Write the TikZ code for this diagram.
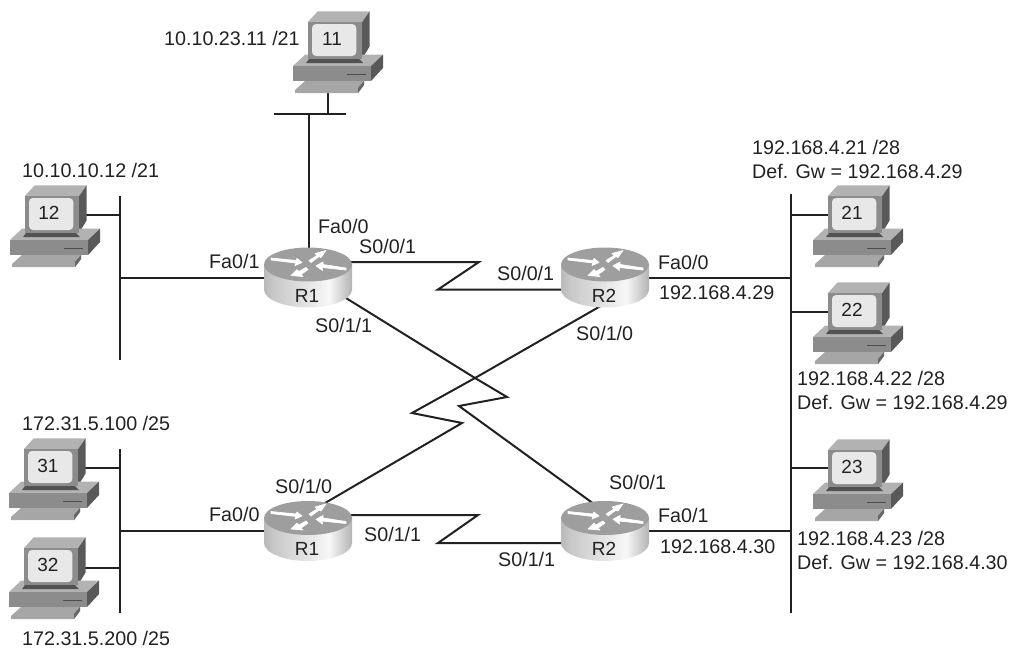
\documentclass[tikz,border=0pt]{standalone}
\usepackage{fontspec}
\setmainfont{Liberation Sans}
\definecolor{ink}{gray}{0.13}
\pgfdeclarehorizontalshading{rtside}{100bp}{
  color(0bp)=(black!55); color(30bp)=(black!22); color(62bp)=(black!3); color(75bp)=(black!30); color(100bp)=(black!78)}
\tikzset{
  x=1pt,y=-1pt,
  wire/.style={draw=ink,line width=2pt,line join=miter,miter limit=10},
  lbl/.style={inner sep=0pt,text=ink,font=\fontsize{19.7}{23}\selectfont,align=left,anchor=west},
  pcbox/.style={inner sep=0pt,minimum width=90pt,minimum height=82pt},
  rtbox/.style={inner sep=0pt,minimum width=88pt,minimum height=60pt},
  rlabel/.style={inner sep=0pt,text=ink,font=\fontsize{19}{22}\selectfont},
  rarrow/.style={fill=white,draw=white,line width=.7pt,line join=round},
}
\newcommand{\pcicon}[3]{%
 \begin{scope}[shift={(#1,#2)}]
  \fill[black!30] (-24.3,-16.7) -- (-14.3,-27.7) -- (37.7,-27.7) -- (30,-16.7) -- cycle;
  \fill[black!65] (30,-16.7) -- (37.7,-27.7) -- (37.7,7.3) -- (30,20) -- cycle;
  \fill[black!30] (-39,27) -- (-27,15.7) -- (51,15.7) -- (39,27) -- cycle;
  \fill[black!45] (-39,27) rectangle (39,42);
  \fill[black!65] (39,27) -- (51,15.7) -- (51,29) -- (39,42) -- cycle;
  \fill[black!35] (-37,51) -- (-27,42) -- (32,42) -- (32,46) -- (26,54) -- (-37,54) -- cycle;
  \fill[black!60] (32,42) -- (32,46) -- (26,54) -- (26,49) -- cycle;
  \fill[black!68] (-23,20) -- (27,20) -- (31,24) -- (-26,24) -- cycle;
  \fill[black!45] (-24.3,-16.7) rectangle (30,20);
  \fill[black!9,rounded corners=4pt] (-20,-15) rectangle (24.3,17);
  \draw[black!70,line width=1pt] (15,35) -- (34,35);
  \node[rlabel] at (0,0) {#3};
 \end{scope}}
\newcommand{\rticon}[3]{%
 \begin{scope}[shift={(#1,#2)}]
  \shade[shading=rtside]
    (-44,-13) -- (-44,12) arc[start angle=180,end angle=360,x radius=44pt,y radius=18pt] -- (44,-13) -- cycle;
  \fill[black!38] (0,-13) ellipse[x radius=44pt,y radius=17pt];
  \fill[rarrow] (-37,-19.5) -- (-12,-17) -- (-11,-19) -- (-6,-15) -- (-13,-12) -- (-12,-14.5) -- (-37,-17.5) -- cycle;
  \fill[rarrow] (38,-7.5) -- (14,-10) -- (14.5,-7) -- (8,-11.7) -- (15,-15.5) -- (15,-13) -- (38,-9.5) -- cycle;
  \fill[rarrow] (1,-17) -- (9,-22) -- (7,-24) -- (18,-27) -- (13,-20) -- (11,-21) -- (3,-15) -- cycle;
  \fill[rarrow] (-2,-10) -- (-9,-6) -- (-11,-8) -- (-17,-2) -- (-5,-1) -- (-7,-3) -- (0,-8) -- cycle;
  \node[rlabel] at (-1,18) {#3};
 \end{scope}}
\begin{document}
\begin{tikzpicture}
\useasboundingbox (0,0) rectangle (1009,648);
% footprints of the devices
\node[pcbox] (pc11) at (332,41) {};
\node[pcbox] (pc12) at (49,215) {};
\node[pcbox] (pc21) at (852,215) {};
\node[pcbox] (pc22) at (852,312) {};
\node[pcbox] (pc23) at (852,468) {};
\node[pcbox] (pc31) at (48,468) {};
\node[pcbox] (pc32) at (48,568) {};
\node[rtbox] (r1a) at (308,277.5) {};
\node[rtbox] (r2a) at (605,277.5) {};
\node[rtbox] (r1b) at (308,531) {};
\node[rtbox] (r2b) at (605,531) {};
\coordinate (busTopL) at (274,113.5);
\coordinate (busTopR) at (346,113.5);
\coordinate (busAT) at (120,196);
\coordinate (busAB) at (120,360);
\coordinate (busBT) at (120,449);
\coordinate (busBB) at (120,613);
\coordinate (busCT) at (790.5,194);
\coordinate (busCB) at (790.5,613);
\coordinate (z1) at (479,262);
\coordinate (z2) at (438,289.5);
\coordinate (z3) at (475,378);
\coordinate (z4) at (507,397);
\coordinate (z5) at (459,406);
\coordinate (z6) at (412,413);
\coordinate (z7) at (462,423);
\coordinate (z8) at (478,515);
\coordinate (z9) at (438,543);
% buses
\draw[wire] (busTopL) -- (busTopR);
\draw[wire] (busAT) -- (busAB);
\draw[wire] (busBT) -- (busBB);
\draw[wire] (busCT) -- (busCB);
% stubs
\draw[wire] ([xshift=-4pt]pc11.center) -- ([xshift=-4pt]pc11.center |- busTopL);
\draw[wire] ([xshift=1pt]r1a.center |- busTopL) -- ([xshift=1pt]r1a.center);
\draw[wire] (pc12.center) -- (pc12.center -| busAT);
\draw[wire] (pc31.center) -- (pc31.center -| busBT);
\draw[wire] (pc32.center) -- (pc32.center -| busBT);
\draw[wire] (pc21.center) -- (pc21.center -| busCT);
\draw[wire] (pc22.center) -- (pc22.center -| busCT);
\draw[wire] (pc23.center) -- (pc23.center -| busCT);
\draw[wire] (r1a.center) -- (r1a.center -| busAT);
\draw[wire] (r1b.center) -- (r1b.center -| busBT);
\draw[wire] (r2a.center) -- (r2a.center -| busCT);
\draw[wire] (r2b.center) -- (r2b.center -| busCT);
% WAN links
\draw[wire] ([yshift=15.5pt]r1a.center) -- (z1) -- (z2) -- ([yshift=-12pt]r2a.center);
\draw[wire] ([yshift=16pt]r1b.center) -- (z8) -- (z9) -- ([yshift=-12pt]r2b.center);
\draw[wire] ([yshift=3pt]r1a.center) -- (z3) -- (z4) -- (z5) -- ([yshift=19pt]r2b.center);
\draw[wire] ([yshift=-26pt]r2a.center) -- (z3) -- (z6) -- (z7) -- ([yshift=18pt]r1b.center);
% icons
\pcicon{332}{39}{11}
\pcicon{49}{213}{12}
\pcicon{852}{213}{21}
\pcicon{852}{310}{22}
\pcicon{852}{467}{23}
\pcicon{48}{466}{31}
\pcicon{48}{565}{32}
\rticon{308}{277.5}{R1}
\rticon{605}{277.5}{R2}
\rticon{308}{531}{R1}
\rticon{605}{531}{R2}
% labels
\node[lbl] (t11) at (164,38) {10.10.23.11 /21};
\node[lbl] (t12) at (22,170) {10.10.10.12 /21};
\node[lbl] (t21) at (752,147) {192.168.4.21 /28};
\node[lbl] (t21b) at (752,171) {Def. Gw = 192.168.4.29};
\node[lbl] (t22) at (797,378) {192.168.4.22 /28};
\node[lbl] (t22b) at (797,402) {Def. Gw = 192.168.4.29};
\node[lbl] (t23) at (797,538) {192.168.4.23 /28};
\node[lbl] (t23b) at (797,562) {Def. Gw = 192.168.4.30};
\node[lbl] (t31) at (22,423) {172.31.5.100 /25};
\node[lbl] (t32) at (22,638) {172.31.5.200 /25};
\node[lbl] (a1) at (209,261) {Fa0/1};
\node[lbl] (a2) at (318,226) {Fa0/0};
\node[lbl] (a3) at (359,246) {S0/0/1};
\node[lbl] (a4) at (497,273) {S0/0/1};
\node[lbl] (a5) at (315,325) {S0/1/1};
\node[lbl] (a6) at (576,333) {S0/1/0};
\node[lbl] (a7) at (658,262) {Fa0/0};
\node[lbl] (a8) at (659,293) {192.168.4.29};
\node[lbl] (a9) at (209,514) {Fa0/0};
\node[lbl] (a10) at (275,486) {S0/1/0};
\node[lbl] (a11) at (364,534) {S0/1/1};
\node[lbl] (a12) at (498,559) {S0/1/1};
\node[lbl] (a13) at (609,482) {S0/0/1};
\node[lbl] (a14) at (658,515) {Fa0/1};
\node[lbl] (a15) at (660,547) {192.168.4.30};
\end{tikzpicture}
\end{document}
